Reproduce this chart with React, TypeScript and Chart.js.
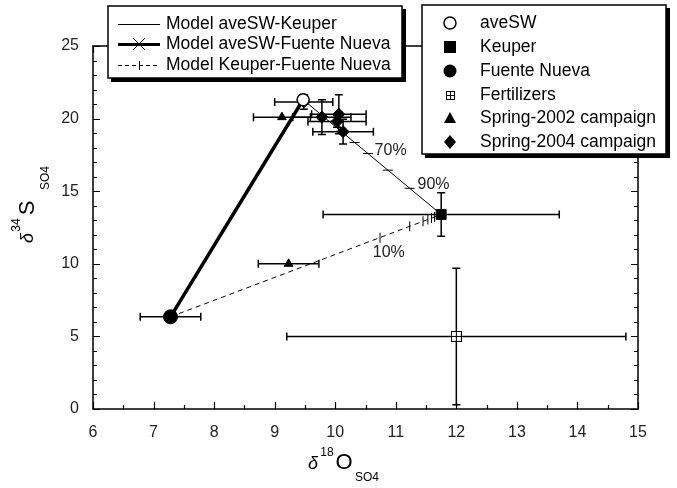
import { useEffect, useRef } from "react";
import { Chart, registerables } from "chart.js";
Chart.register(...registerables);

const FONT = '"Liberation Sans", Arial, sans-serif';

// Axis ticks
const X_MIN = 6, X_MAX = 15;
const Y_MIN = 0, Y_MAX = 25;

// End-members and samples (x = δ18O, y = δ34S)
const aveSW = [{ x: 9.47, y: 21.3 }];
const aveSWErrX = [0];
const aveSWErrY = [0];
const keuper = [{ x: 11.75, y: 13.4 }];
const keuperErrX = [1.95];
const keuperErrY = [1.5];
const fuenteNueva = [{ x: 7.28, y: 6.35 }];
const fuenteNuevaErrX = [0.5];
const fuenteNuevaErrY = [0];
const fertilizers = [{ x: 12.0, y: 5.0 }];
const fertilizersErrX = [2.8];
const fertilizersErrY = [4.7];
const spring2002 = [{ x: 9.12, y: 20.1 }, { x: 9.23, y: 10.0 }];
const spring2002ErrX = [0.47, 0.5];
const spring2002ErrY = [0, 0];
const spring2004 = [
  { x: 9.48, y: 21.15 },
  { x: 9.78, y: 20.1 },
  { x: 10.06, y: 20.3 },
  { x: 10.03, y: 19.8 },
  { x: 10.13, y: 19.1 },
];
const spring2004ErrX = [0.48, 0.48, 0.45, 0.48, 0.5];
const spring2004ErrY = [0.5, 1.2, 1.35, 0.4, 0.85];

// Mixing-model tick marks
const ticksSWKeuper = [
  { x: 10.09, y: 19.13 },
  { x: 10.32, y: 18.35 },
  { x: 10.54, y: 17.6 },
  { x: 10.87, y: 16.45 },
  { x: 11.23, y: 15.2 },
];
const ticksKeuperFN = [
  { x: 10.74, y: 11.8 },
  { x: 11.23, y: 12.58 },
  { x: 11.45, y: 12.93 },
  { x: 11.53, y: 13.05 },
  { x: 11.59, y: 13.15 },
  { x: 11.64, y: 13.23 },
];
const pctLabels = [
  { text: "70%", x: 10.65, y: 17.8 },
  { text: "90%", x: 11.36, y: 15.45 },
  { text: "10%", x: 10.62, y: 10.8 },
];

const lineLegend = ["Model aveSW-Keuper", "Model aveSW-Fuente Nueva", "Model Keuper-Fuente Nueva"];
const markerLegend = ["aveSW", "Keuper", "Fuente Nueva", "Fertilizers", "Spring-2002 campaign", "Spring-2004 campaign"];

function makeFertMarker(size: number) {
  const c = document.createElement("canvas");
  c.width = size;
  c.height = size;
  const g = c.getContext("2d")!;
  g.fillStyle = "#fff";
  g.fillRect(0, 0, size, size);
  g.strokeStyle = "#000";
  g.lineWidth = 1;
  g.strokeRect(0.5, 0.5, size - 1, size - 1);
  const m = Math.floor(size / 2) + 0.5;
  g.beginPath();
  g.moveTo(m, 0);
  g.lineTo(m, size);
  g.moveTo(0, m);
  g.lineTo(size, m);
  g.stroke();
  return c;
}

const errorSets = [
  { d: aveSW, ex: aveSWErrX, ey: aveSWErrY },
  { d: keuper, ex: keuperErrX, ey: keuperErrY },
  { d: fuenteNueva, ex: fuenteNuevaErrX, ey: fuenteNuevaErrY },
  { d: fertilizers, ex: fertilizersErrX, ey: fertilizersErrY },
  { d: spring2002, ex: spring2002ErrX, ey: spring2002ErrY },
  { d: spring2004, ex: spring2004ErrX, ey: spring2004ErrY },
];

const errorBarPlugin = {
  id: "errbars",
  beforeDatasetsDraw(chart: any) {
    const ctx = chart.ctx;
    const xs = chart.scales.x, ys = chart.scales.y;
    ctx.save();
    ctx.strokeStyle = "#000";
    ctx.lineWidth = 1.5;
    const cap = 4;
    for (const s of errorSets) {
      s.d.forEach((p, i) => {
        const px = xs.getPixelForValue(p.x), py = ys.getPixelForValue(p.y);
        const ex = s.ex[i], ey = s.ey[i];
        ctx.beginPath();
        if (ex > 0) {
          const l = xs.getPixelForValue(p.x - ex), r = xs.getPixelForValue(p.x + ex);
          ctx.moveTo(l, py); ctx.lineTo(r, py);
          ctx.moveTo(l, py - cap); ctx.lineTo(l, py + cap);
          ctx.moveTo(r, py - cap); ctx.lineTo(r, py + cap);
        }
        if (ey > 0) {
          const t = ys.getPixelForValue(p.y + ey), b = ys.getPixelForValue(p.y - ey);
          ctx.moveTo(px, t); ctx.lineTo(px, b);
          ctx.moveTo(px - cap, t); ctx.lineTo(px + cap, t);
          ctx.moveTo(px - cap, b); ctx.lineTo(px + cap, b);
        }
        ctx.stroke();
      });
    }
    ctx.restore();
  },
};

function drawPieces(ctx: any, pieces: any[]) {
  for (const p of pieces) {
    ctx.font = p.font;
    ctx.textAlign = "center";
    ctx.textBaseline = "middle";
    ctx.fillText(p.t, p.x, p.y);
  }
}

const decorPlugin = {
  id: "decor",
  afterDraw(chart: any) {
    const ctx = chart.ctx;
    const xs = chart.scales.x, ys = chart.scales.y;
    const { left, right, top, bottom } = chart.chartArea;
    ctx.save();
    ctx.strokeStyle = "#000";
    ctx.fillStyle = "#000";

    // inward tick marks
    ctx.lineWidth = 1.2;
    ctx.beginPath();
    for (let v = X_MIN; v <= X_MAX + 1e-9; v += 0.5) {
      const px = Math.round(xs.getPixelForValue(v)) + 0.5;
      const len = Math.abs(v - Math.round(v)) < 1e-9 ? 7 : 4;
      ctx.moveTo(px, bottom); ctx.lineTo(px, bottom - len);
      ctx.moveTo(px, top); ctx.lineTo(px, top + len);
    }
    for (let v = Y_MIN; v <= Y_MAX + 1e-9; v += 1) {
      const py = Math.round(ys.getPixelForValue(v)) + 0.5;
      const len = v % 5 === 0 ? 7 : 4;
      ctx.moveTo(left, py); ctx.lineTo(left + len, py);
      ctx.moveTo(right, py); ctx.lineTo(right - len, py);
    }
    ctx.stroke();
    // frame
    ctx.lineWidth = 1.5;
    ctx.strokeRect(left, top, right - left, bottom - top);

    // percentage labels
    ctx.font = `16px ${FONT}`;
    ctx.textAlign = "left";
    ctx.textBaseline = "middle";
    ctx.fillStyle = "#222";
    for (const l of pctLabels) {
      ctx.fillText(l.text, xs.getPixelForValue(l.x), ys.getPixelForValue(l.y));
    }
    ctx.fillStyle = "#000";

    // x axis title
    drawPieces(ctx, [
      { t: "δ", x: 313, y: 464, font: `italic 18px ${FONT}` },
      { t: "18", x: 327, y: 453, font: `12px ${FONT}` },
      { t: "O", x: 344, y: 463, font: `22px ${FONT}` },
      { t: "SO4", x: 367, y: 478, font: `12px ${FONT}` },
    ]);
    // y axis title (rotated)
    const yPieces = [
      { t: "δ", sx: 28, sy: 238, font: `italic 18px ${FONT}` },
      { t: "34", sx: 17, sy: 225, font: `12px ${FONT}` },
      { t: "S", sx: 28, sy: 208, font: `22px ${FONT}` },
      { t: "SO4", sx: 46, sy: 178, font: `12px ${FONT}` },
    ];
    for (const p of yPieces) {
      ctx.save();
      ctx.translate(p.sx, p.sy);
      ctx.rotate(-Math.PI / 2);
      ctx.font = p.font;
      ctx.textAlign = "center";
      ctx.textBaseline = "middle";
      ctx.fillText(p.t, 0, 0);
      ctx.restore();
    }

    // legend boxes
    const box = (x0: number, y0: number, x1: number, y1: number) => {
      ctx.fillStyle = "#000";
      ctx.fillRect(x0 + 3, y0 + 3, x1 - x0 + 1, y1 - y0 + 1);
      ctx.fillStyle = "#fff";
      ctx.fillRect(x0, y0, x1 - x0, y1 - y0);
      ctx.lineWidth = 1.5;
      ctx.strokeStyle = "#000";
      ctx.strokeRect(x0, y0, x1 - x0, y1 - y0);
      ctx.fillStyle = "#000";
    };
    box(108, 6, 402, 78);
    box(422, 5, 666, 154);

    ctx.font = `17.5px ${FONT}`;
    ctx.textAlign = "left";
    ctx.textBaseline = "middle";
    ctx.fillStyle = "#000";
    const ly = [24, 44, 65];
    lineLegend.forEach((t, i) => ctx.fillText(t, 166, ly[i]));
    // samples
    ctx.strokeStyle = "#000";
    ctx.lineWidth = 1;
    ctx.beginPath(); ctx.moveTo(118, 24.5); ctx.lineTo(160, 24.5); ctx.stroke();
    ctx.lineWidth = 3;
    ctx.beginPath(); ctx.moveTo(118, 44.5); ctx.lineTo(160, 44.5); ctx.stroke();
    ctx.lineWidth = 1;
    ctx.beginPath();
    ctx.moveTo(133, 38); ctx.lineTo(145, 50); ctx.moveTo(145, 38); ctx.lineTo(133, 50);
    ctx.stroke();
    ctx.setLineDash([4, 3]);
    ctx.beginPath(); ctx.moveTo(118, 65.5); ctx.lineTo(160, 65.5); ctx.stroke();
    ctx.setLineDash([]);
    ctx.beginPath(); ctx.moveTo(139.5, 61); ctx.lineTo(139.5, 70); ctx.stroke();

    const ry = [23, 47, 71, 95, 118, 142];
    markerLegend.forEach((t, i) => ctx.fillText(t, 480, ry[i]));
    const mx = 450;
    ctx.lineWidth = 1.5;
    ctx.beginPath(); ctx.arc(mx, ry[0], 6, 0, Math.PI * 2); ctx.fillStyle = "#fff"; ctx.fill(); ctx.stroke();
    ctx.fillStyle = "#000";
    ctx.fillRect(mx - 6, ry[1] - 6, 12, 12);
    ctx.beginPath(); ctx.arc(mx, ry[2], 6.5, 0, Math.PI * 2); ctx.fill();
    ctx.drawImage(makeFertMarker(9), mx - 4, ry[3] - 4);
    ctx.beginPath(); ctx.moveTo(mx, ry[4] - 6); ctx.lineTo(mx + 6, ry[4] + 5); ctx.lineTo(mx - 6, ry[4] + 5); ctx.closePath(); ctx.fill();
    ctx.beginPath(); ctx.moveTo(mx, ry[5] - 7); ctx.lineTo(mx + 6, ry[5]); ctx.lineTo(mx, ry[5] + 7); ctx.lineTo(mx - 6, ry[5]); ctx.closePath(); ctx.fill();

    ctx.restore();
  },
};

export default function App() {
  const ref = useRef<HTMLCanvasElement | null>(null);
  useEffect(() => {
    if (!ref.current) return;
    const fert = makeFertMarker(11);
    const black = "#000";
    const chart = new Chart(ref.current, {
      type: "scatter",
      data: {
        datasets: [
          { label: markerLegend[0], data: aveSW, pointStyle: "circle", pointRadius: 6, backgroundColor: "#fff", borderColor: black, borderWidth: 1.5, order: 0 },
          { label: markerLegend[1], data: keuper, pointStyle: "rect", pointRadius: 7, backgroundColor: black, borderColor: black, borderWidth: 1, order: 1 },
          { label: markerLegend[2], data: fuenteNueva, pointStyle: "circle", pointRadius: 7, backgroundColor: black, borderColor: black, borderWidth: 1, order: 1 },
          { label: markerLegend[3], data: fertilizers, pointStyle: fert as any, pointRadius: 6, backgroundColor: "#fff", borderColor: black, order: 1 },
          { label: markerLegend[4], data: spring2002, pointStyle: "triangle", pointRadius: 5, backgroundColor: black, borderColor: black, borderWidth: 1, order: 1 },
          { label: markerLegend[5], data: spring2004, pointStyle: "rectRot", pointRadius: 6, backgroundColor: black, borderColor: black, borderWidth: 1, order: 1 },
          { label: lineLegend[0], data: [aveSW[0], keuper[0]], showLine: true, borderColor: black, borderWidth: 1, pointRadius: 0, order: 5 },
          { label: lineLegend[1], data: [aveSW[0], fuenteNueva[0]], showLine: true, borderColor: black, borderWidth: 3.5, pointStyle: "crossRot", pointRadius: 7, pointBorderWidth: 1, backgroundColor: black, order: 6 },
          { label: lineLegend[2], data: [fuenteNueva[0], keuper[0]], showLine: true, borderColor: black, borderWidth: 1, borderDash: [5, 4], pointRadius: 0, order: 7 },
          { label: "ticks1", data: ticksSWKeuper, pointStyle: "line", rotation: 0, pointRadius: 5, borderColor: black, borderWidth: 1, order: 4 },
          { label: "ticks2", data: ticksKeuperFN, pointStyle: "line", rotation: 90, pointRadius: 5, borderColor: black, borderWidth: 1, order: 4 },
        ] as any,
      },
      options: {
        animation: false,
        responsive: true,
        maintainAspectRatio: false,
        layout: { padding: { left: 0, top: 46, right: 39, bottom: 0 } },
        plugins: { legend: { display: false }, tooltip: { enabled: false } },
        scales: {
          x: {
            type: "linear",
            min: X_MIN,
            max: X_MAX,
            grid: { display: false, drawTicks: false },
            border: { display: false },
            ticks: { stepSize: 1, padding: 14, color: "#222", font: { family: FONT, size: 16 } },
            afterFit(s: any) { s.height = 79; },
          },
          y: {
            type: "linear",
            min: Y_MIN,
            max: Y_MAX,
            grid: { display: false, drawTicks: false },
            border: { display: false },
            ticks: { stepSize: 5, padding: 14, color: "#222", font: { family: FONT, size: 16 } },
            afterFit(s: any) { s.width = 93; },
          },
        },
      } as any,
      plugins: [errorBarPlugin, decorPlugin],
    });
    return () => chart.destroy();
  }, []);
  return (
    <div style={{ position: "fixed", left: 0, top: 0, width: 677, height: 488, background: "#fff" }}>
      <canvas ref={ref} />
    </div>
  );
}
